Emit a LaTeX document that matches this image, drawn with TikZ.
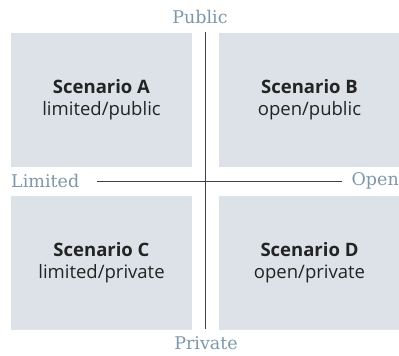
\documentclass[tikz,border=0pt]{standalone}
\usepackage{fontspec}
\setmainfont{Open Sans}
\newfontfamily\axisfont{DejaVu Serif}
\usetikzlibrary{positioning,calc}
\definecolor{boxgray}{RGB}{220,226,232}
\definecolor{axisblue}{RGB}{125,152,170}
\definecolor{textdark}{RGB}{35,35,35}
\definecolor{linedark}{RGB}{60,64,70}

\begin{document}
\begin{tikzpicture}[x=1pt,y=-1pt,
	scen/.style={fill=boxgray,minimum width=181pt,minimum height=134pt,inner sep=0pt,align=center,text=textdark,font=\fontsize{18.5}{22}\selectfont},
	axlab/.style={text=axisblue,font=\axisfont\fontsize{17.5}{20}\selectfont,inner sep=0pt},
	axis/.style={linedark,line width=0.8pt}]
%		\draw[lightgray] (0,0) grid[step=50] (399,356);
		\useasboundingbox (0,0) rectangle (399,356);
		\node[scen] (scenA) at (101.5,100) {\textbf{Scenario A}\\limited/public};
		\node[scen] (scenB) at (309.5,100) {\textbf{Scenario B}\\open/public};
		\node[scen] (scenC) at (101.5,263) {\textbf{Scenario C}\\limited/private};
		\node[scen] (scenD) at (309.5,263) {\textbf{Scenario D}\\open/private};
		\node[axlab] (public) at (200,17) {Public};
		\node[axlab] (private) at (206,343) {Private};
		\node[axlab,anchor=west] (limited) at (11,181) {Limited};
		\node[axlab,anchor=east] (open) at (399,181) {Open};
		\coordinate (vtop) at (205,32);
		\coordinate (vbot) at (205,329);
		\draw[axis] (vtop) -- (vbot);
		\draw[axis] ([xshift=18pt]limited.east) -- ([xshift=-9pt]open.west);
	\end{tikzpicture}
\end{document}
